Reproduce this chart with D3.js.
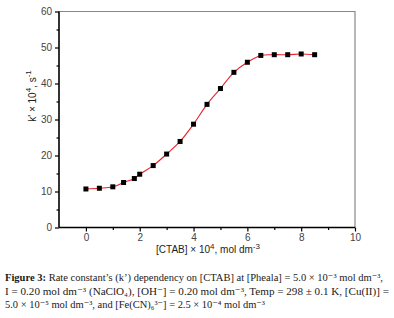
<!DOCTYPE html>
<html lang="en">
<head>
<meta charset="utf-8">
<title>k' vs CTAB</title>
<script src="https://cdn.jsdelivr.net/npm/d3@7/dist/d3.min.js"></script>
<style>
body { margin: 0; background: #fff; }
.tick text { font-family: "Liberation Sans", Arial, sans-serif; font-size: 10px; fill: #444; }
.label { font-family: "Liberation Sans", Arial, sans-serif; font-size: 10px; fill: #222; }
.caption { font-family: "Liberation Serif", "DejaVu Serif", serif; font-size: 11px; fill: #1a1a1a; }
</style>
</head>
<body>
<script>
// data
var ctab = [0, 0.5, 1.0, 1.4, 1.8, 2.0, 2.5, 3.0, 3.5, 4.0, 4.5, 5.0, 5.5, 6.0, 6.5, 7.0, 7.5, 8.0, 8.5];
var kobs = [10.7, 10.9, 11.3, 12.5, 13.6, 14.8, 17.2, 20.4, 23.9, 28.7, 34.2, 38.6, 43.1, 45.9, 47.8, 48.0, 48.0, 48.2, 48.0];
var xTicks = [0, 2, 4, 6, 8, 10];
var yTicks = [0, 10, 20, 30, 40, 50, 60];

var W = 394, H = 318;
var pLeft = 59, pRight = 355, pTop = 11.5, pBottom = 227.5;

var svg = d3.select("body").append("svg")
  .attr("width", W).attr("height", H);

var x = d3.scaleLinear().domain([-1, 10]).range([pLeft, pRight]);
var y = d3.scaleLinear().domain([0, 60]).range([pBottom, pTop]);

// frame (top/right gray)
svg.append("path")
  .attr("d", "M" + pLeft + "," + pTop + "H" + pRight + "V" + pBottom)
  .attr("fill", "none").attr("stroke", "#888").attr("stroke-width", 1.2);

// minor ticks
svg.append("g")
  .attr("transform", "translate(0," + pBottom + ")")
  .call(d3.axisBottom(x).tickValues([1, 3, 5, 7, 9]).tickSize(2.5).tickFormat(""))
  .call(g => g.select(".domain").remove())
  .selectAll("line").attr("stroke", "#000").attr("stroke-width", 1.2);
svg.append("g")
  .attr("transform", "translate(" + pLeft + ",0)")
  .call(d3.axisLeft(y).tickValues([5, 15, 25, 35, 45, 55]).tickSize(2.5).tickFormat(""))
  .call(g => g.select(".domain").remove())
  .selectAll("line").attr("stroke", "#000").attr("stroke-width", 1.2);

var xAxis = svg.append("g")
  .attr("transform", "translate(0," + pBottom + ")")
  .call(d3.axisBottom(x).tickValues(xTicks).tickSize(4).tickPadding(2).tickSizeOuter(0));
var yAxis = svg.append("g")
  .attr("transform", "translate(" + pLeft + ",0)")
  .call(d3.axisLeft(y).tickValues(yTicks).tickSize(4).tickPadding(3).tickSizeOuter(0));
[xAxis, yAxis].forEach(function(g) {
  g.select(".domain").attr("stroke", "#000").attr("stroke-width", 1.6);
  g.selectAll(".tick line").attr("stroke", "#000").attr("stroke-width", 1.2);
});
xAxis.select(".domain").attr("d", "M" + pLeft + ",0H" + pRight);
yAxis.select(".domain").attr("d", "M0," + pBottom + "V" + pTop);

// fitted curve
var line = d3.line()
  .x(function(d, i) { return x(ctab[i]); })
  .y(function(d) { return y(d); })
  .curve(d3.curveCatmullRom);
svg.append("path")
  .attr("d", line(kobs))
  .attr("fill", "none").attr("stroke", "#e8232a").attr("stroke-width", 1.1);

// markers
svg.selectAll(".pt")
  .data(kobs)
  .enter().append("rect")
  .attr("class", "pt")
  .attr("x", function(d, i) { return x(ctab[i]) - 2.5; })
  .attr("y", function(d) { return y(d) - 2.5; })
  .attr("width", 5).attr("height", 5)
  .attr("fill", "#000");

// axis titles
var xl = svg.append("text").attr("class", "label")
  .attr("x", (pLeft + pRight) / 2 + 1).attr("y", 253)
  .attr("text-anchor", "middle");
xl.append("tspan").text("[CTAB] \u00d7 10");
xl.append("tspan").attr("dy", -4).attr("font-size", "8px").text("4");
xl.append("tspan").attr("dy", 4).text(", mol dm");
xl.append("tspan").attr("dy", -4).attr("font-size", "8px").text("-3");

var yl = svg.append("text").attr("class", "label")
  .attr("transform", "translate(36,96) rotate(-90)")
  .attr("text-anchor", "middle");
yl.append("tspan").text("k' \u00d7 10");
yl.append("tspan").attr("dy", -5).attr("font-size", "8px").text("4");
yl.append("tspan").attr("dy", 5).text(", s");
yl.append("tspan").attr("dy", -5).attr("font-size", "8px").text("-1");

// caption
var cap1 = svg.append("text").attr("class", "caption")
  .attr("x", 5).attr("y", 280.5)
  .style("font-size", "10.6px")
  .attr("textLength", 378).attr("lengthAdjust", "spacingAndGlyphs");
cap1.append("tspan").attr("font-weight", "bold").text("Figure 3:");
cap1.append("tspan").text(" Rate constant\u2019s (k\u2019) dependency on [CTAB] at [Pheala] = 5.0 \u00d7 10\u207b\u00b3 mol dm\u207b\u00b3,");

svg.append("text").attr("class", "caption")
  .attr("x", 5).attr("y", 294.5)
  .attr("textLength", 384).attr("lengthAdjust", "spacingAndGlyphs")
  .text("I = 0.20 mol dm\u207b\u00b3 (NaClO\u2084), [OH\u207b] = 0.20 mol dm\u207b\u00b3, Temp = 298 \u00b1 0.1 K, [Cu(II)] =");

svg.append("text").attr("class", "caption")
  .attr("x", 5).attr("y", 308)
  .attr("textLength", 260).attr("lengthAdjust", "spacingAndGlyphs")
  .text("5.0 \u00d7 10\u207b\u2075 mol dm\u207b\u00b3, and [Fe(CN)\u2086\u00b3\u207b] = 2.5 \u00d7 10\u207b\u2074 mol dm\u207b\u00b3");
</script>
</body>
</html>
